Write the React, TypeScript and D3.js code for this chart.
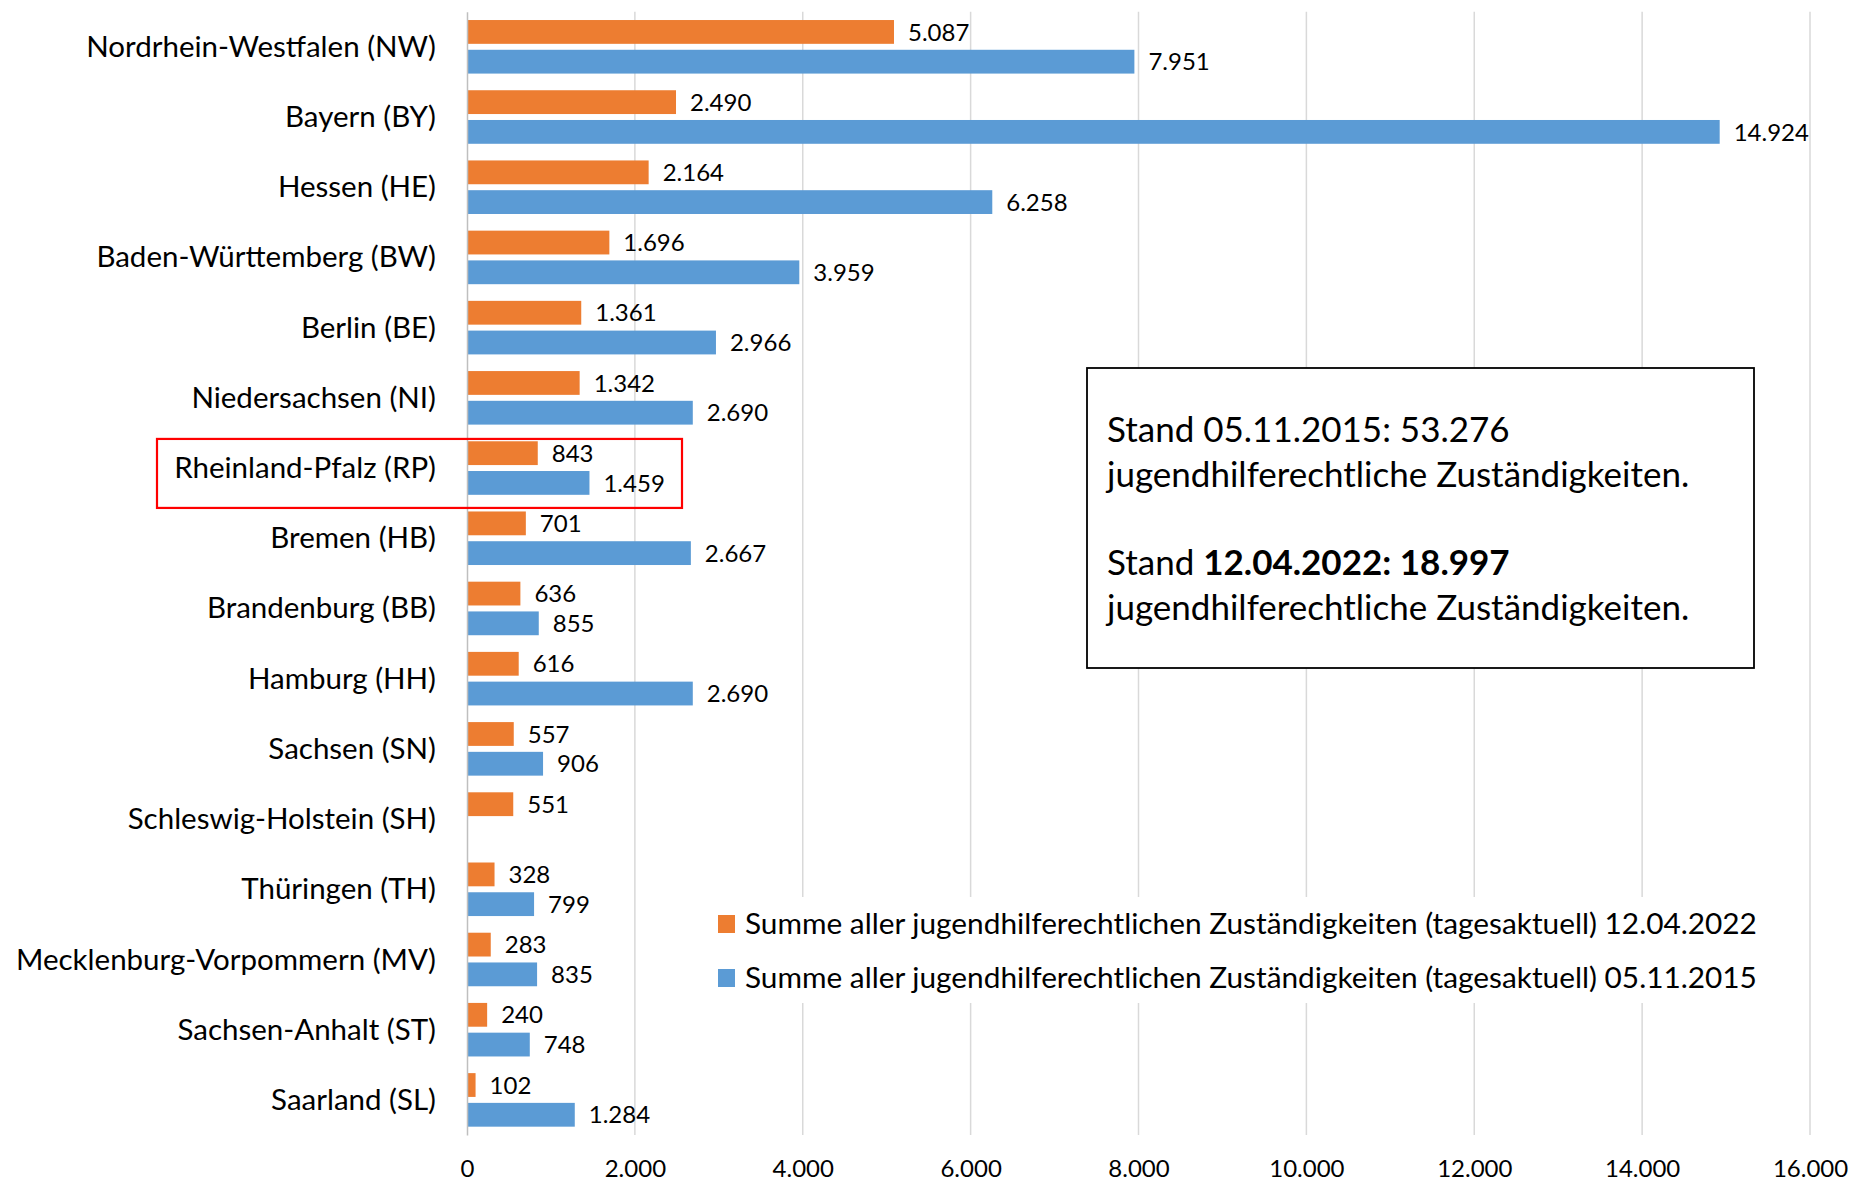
import React, { useEffect, useRef } from "react";
import * as d3 from "d3";

const categories = [
  "Nordrhein-Westfalen (NW)",
  "Bayern (BY)",
  "Hessen (HE)",
  "Baden-Württemberg (BW)",
  "Berlin (BE)",
  "Niedersachsen (NI)",
  "Rheinland-Pfalz (RP)",
  "Bremen (HB)",
  "Brandenburg (BB)",
  "Hamburg (HH)",
  "Sachsen (SN)",
  "Schleswig-Holstein (SH)",
  "Thüringen (TH)",
  "Mecklenburg-Vorpommern (MV)",
  "Sachsen-Anhalt (ST)",
  "Saarland (SL)",
];
const values2022 = [5087, 2490, 2164, 1696, 1361, 1342, 843, 701, 636, 616, 557, 551, 328, 283, 240, 102];
const values2015: (number | null)[] = [7951, 14924, 6258, 3959, 2966, 2690, 1459, 2667, 855, 2690, 906, null, 799, 835, 748, 1284];
const xTicks = [0, 2000, 4000, 6000, 8000, 10000, 12000, 14000, 16000];
const seriesNames = [
  "Summe aller jugendhilferechtlichen Zuständigkeiten (tagesaktuell) 12.04.2022",
  "Summe aller jugendhilferechtlichen Zuständigkeiten (tagesaktuell) 05.11.2015",
];
const highlighted = "Rheinland-Pfalz (RP)";

const W = 1851, H = 1181;
const FONT = "Lato, 'Open Sans', sans-serif";
const ORANGE = "#ED7D31", BLUE = "#5B9BD5";

export default function App() {
  const ref = useRef<SVGSVGElement>(null);

  useEffect(() => {
    const svg = d3.select(ref.current);
    svg.selectAll("*").remove();

    const de = d3.formatLocale({ decimal: ",", thousands: ".", grouping: [3], currency: ["", " €"] });
    const fmt = de.format(",d");

    const x = d3.scaleLinear().domain([0, 16000]).range([467, 1810]);
    const y = d3.scaleBand().domain(categories).range([11.7, 1135]).padding(0);
    const sub = d3.scaleBand().domain(["o", "b"]).range([0, y.bandwidth()]).paddingInner(0.2).paddingOuter(0.28);

    const g = svg.append("g").attr("font-family", FONT);

    // gridlines
    g.append("g").selectAll("line").data(xTicks.slice(1)).enter().append("line")
      .attr("x1", d => x(d)).attr("x2", d => x(d))
      .attr("y1", 11.7).attr("y2", 1135)
      .attr("stroke", "#d9d9d9").attr("stroke-width", 1.5);

    // x axis labels
    const xa = g.append("g").attr("transform", "translate(0,1135)")
      .call(d3.axisBottom(x).tickValues(xTicks).tickFormat(d => fmt(d as number)).tickSize(0).tickPadding(0));
    xa.select(".domain").remove();
    xa.selectAll("text").attr("font-size", 24).attr("fill", "#000").attr("font-family", FONT)
      .attr("dy", null).attr("y", 42);

    // bars
    const rows = categories.map((c, i) => ({ c, a: values2022[i], b: values2015[i] }));

    g.append("g").selectAll("rect").data(rows).enter().append("rect")
      .attr("x", x(0)).attr("y", d => y(d.c)! + sub("o")!)
      .attr("width", d => x(d.a) - x(0)).attr("height", sub.bandwidth())
      .attr("fill", ORANGE);

    g.append("g").selectAll("rect").data(rows.filter(d => d.b != null)).enter().append("rect")
      .attr("x", x(0)).attr("y", d => y(d.c)! + sub("b")!)
      .attr("width", d => x(d.b as number) - x(0)).attr("height", sub.bandwidth())
      .attr("fill", BLUE);

    // value labels
    g.append("g").selectAll("text").data(rows).enter().append("text")
      .attr("x", d => x(d.a) + 14).attr("y", d => y(d.c)! + sub("o")! + sub.bandwidth() / 2)
      .attr("dy", "0.36em").attr("font-size", 24).text(d => fmt(d.a));

    g.append("g").selectAll("text").data(rows.filter(d => d.b != null)).enter().append("text")
      .attr("x", d => x(d.b as number) + 14).attr("y", d => y(d.c)! + sub("b")! + sub.bandwidth() / 2)
      .attr("dy", "0.36em").attr("font-size", 24).text(d => fmt(d.b as number));

    // category axis
    const ya = g.append("g").attr("transform", `translate(${x(0)},0)`)
      .call(d3.axisLeft(y).tickSize(0).tickPadding(31));
    ya.select(".domain").attr("stroke", "#bfbfbf").attr("stroke-width", 1.5);
    ya.selectAll("text").attr("font-size", 29.5).attr("fill", "#000").attr("font-family", FONT).attr("dy", "0.34em");

    // highlight box
    g.append("rect")
      .attr("x", 157).attr("y", y(highlighted)! + 6)
      .attr("width", 525).attr("height", 69)
      .attr("fill", "none").attr("stroke", "#ff0000").attr("stroke-width", 2.2);

    // legend
    const leg = g.append("g");
    leg.append("rect").attr("x", 708).attr("y", 897).attr("width", 1082).attr("height", 106).attr("fill", "#fff");
    [ORANGE, BLUE].forEach((col, i) => {
      const yy = 915 + i * 54;
      leg.append("rect").attr("x", 718).attr("y", yy).attr("width", 17).attr("height", 18).attr("fill", col);
      leg.append("text").attr("x", 745).attr("y", yy + 19).attr("font-size", 29.8).text(seriesNames[i]);
    });

    // annotation box
    const box = g.append("g");
    box.append("rect").attr("x", 1087).attr("y", 368).attr("width", 667).attr("height", 300)
      .attr("fill", "#fff").attr("stroke", "#000").attr("stroke-width", 1.8);
    const t1 = box.append("text").attr("x", 1107).attr("y", 442).attr("font-size", 35);
    t1.append("tspan").text("Stand 05.11.2015: 53.276");
    box.append("text").attr("x", 1107).attr("y", 487).attr("font-size", 35).text("jugendhilferechtliche Zuständigkeiten.");
    const t3 = box.append("text").attr("x", 1107).attr("y", 575).attr("font-size", 35);
    t3.append("tspan").text("Stand ");
    t3.append("tspan").attr("font-weight", "bold").text("12.04.2022: 18.997");
    box.append("text").attr("x", 1107).attr("y", 620).attr("font-size", 35).text("jugendhilferechtliche Zuständigkeiten.");
  }, []);

  return (
    <svg ref={ref} width={W} height={H}
      style={{ position: "absolute", left: 0, top: 0, background: "#fff" }} />
  );
}
